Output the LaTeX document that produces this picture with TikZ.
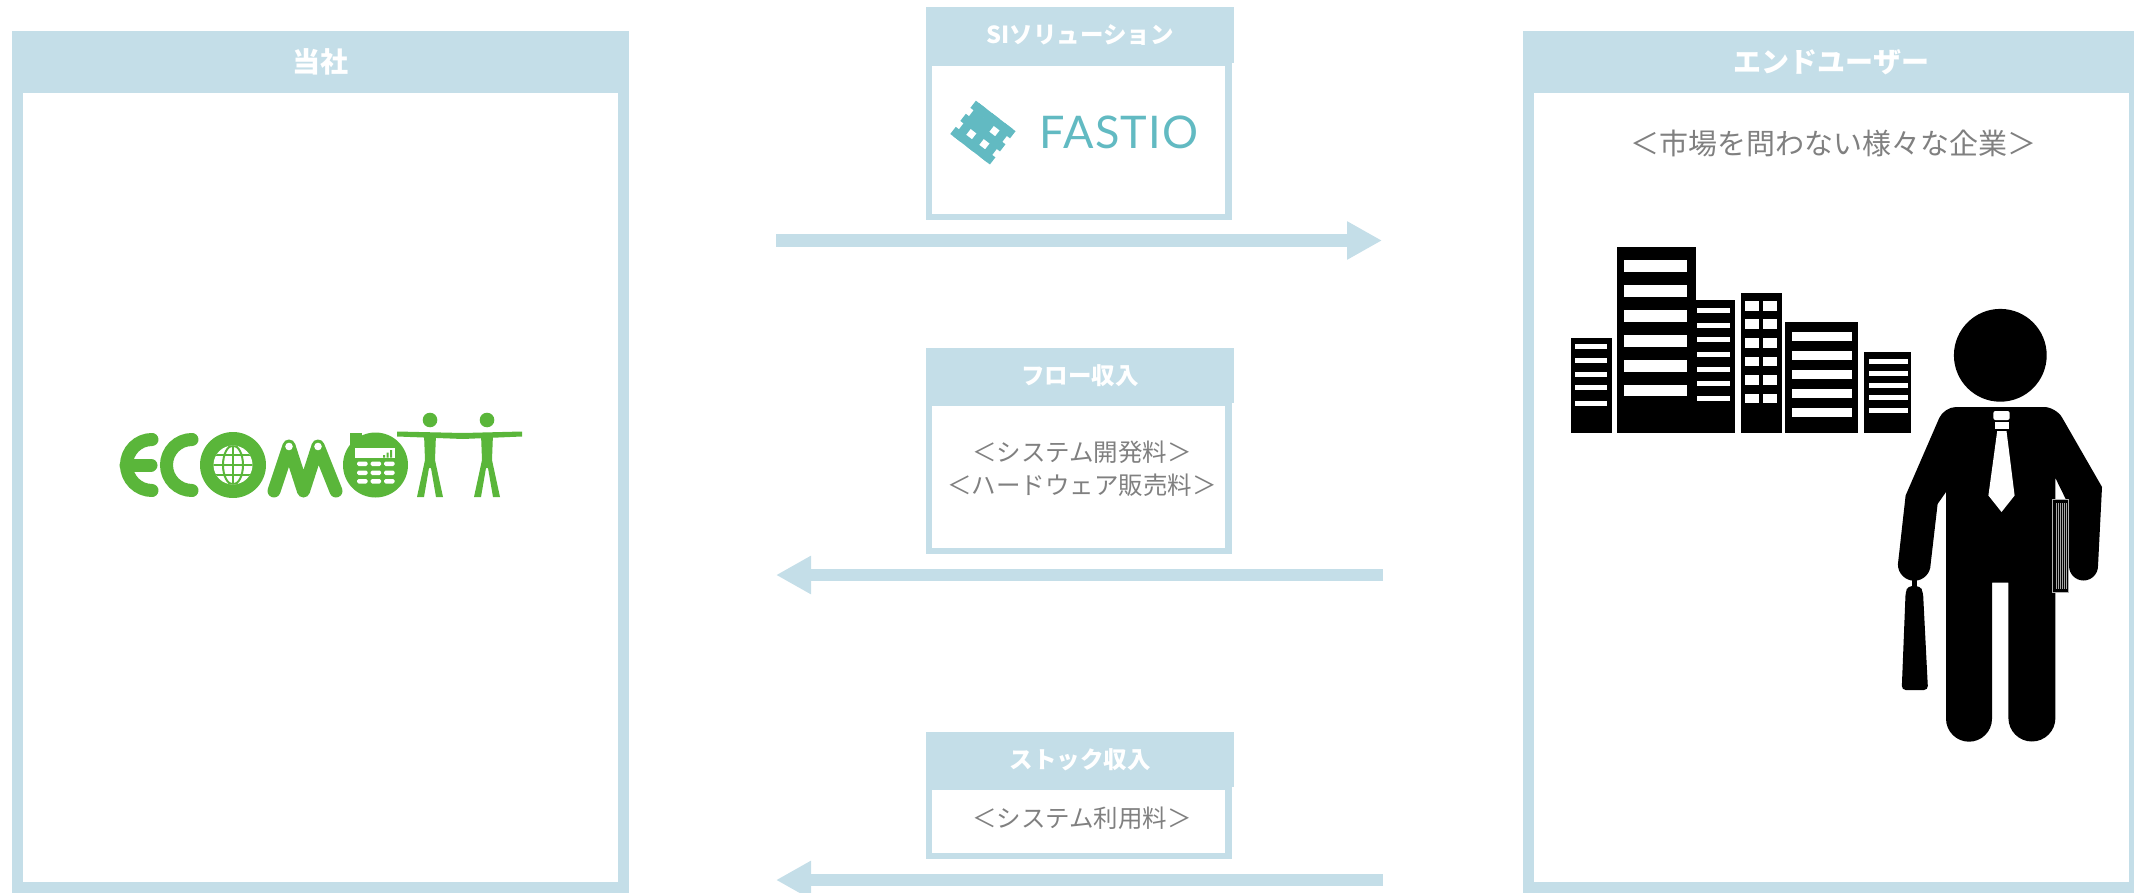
\documentclass[tikz,border=0pt]{standalone}
\usepackage{fontspec}
\usepackage{tikz}
\usetikzlibrary{arrows.meta,positioning}
\newfontfamily\jpfont{Noto Sans CJK JP}
\newfontfamily\fastiofont{Lato}[LetterSpace=3]
\definecolor{frameblue}{RGB}{196,222,232}
\definecolor{textgray}{RGB}{128,128,128}
\definecolor{fastioteal}{RGB}{98,186,194}
\definecolor{ecogreen}{RGB}{90,182,58}

\begin{document}
\begin{tikzpicture}[x=1pt,y=-1pt,
  bigband/.style={fill=frameblue,text=white,inner sep=0pt,minimum width=617pt,minimum height=62pt,font={\jpfont\bfseries\fontsize{28}{32}\selectfont}},
  smallband/.style={fill=frameblue,text=white,inner sep=0pt,minimum width=308pt,minimum height=55pt,font={\jpfont\bfseries\fontsize{23.5}{28}\selectfont}},
  bigframe/.style={draw=frameblue,line width=11pt,inner sep=0pt,minimum width=606pt,minimum height=825.5pt},
  smallframe/.style={draw=frameblue,line width=6.5pt,inner sep=0pt,minimum width=299.5pt},
  graytext/.style={text=textgray,align=center,inner sep=0pt,font={\jpfont\fontsize{24.5}{33}\selectfont}},
  flowarrow/.style={draw=frameblue,line width=12.5pt,-{Triangle[length=35pt,width=36pt]}}]
  \useasboundingbox (0,0) rectangle (2134,893);

  % boxes of the two parties
  \node[bigframe] (toshabody) at (320.5,474.75) {};
  \node[bigframe] (userbody) at (1831.5,474.75) {};
  \node[bigband] (tosha) at (320.5,62) {当社};
  \node[bigband] (user) at (1831.5,62) {エンドユーザー};
  \node[graytext,font={\jpfont\fontsize{29}{33}\selectfont}] (market) at (1833,143) {＜市場を問わない様々な企業＞};

  % middle boxes
  \node[smallframe,minimum height=154pt] (sibody) at (1078.75,140) {};
  \node[smallband,minimum height=56pt] (si) at (1080,35) {SIソリューション};
  \node[smallframe,minimum height=148pt] (flowbody) at (1078.75,477) {};
  \node[smallband] (flow) at (1080,375.5) {フロー収入};
  \node[graytext] (flowtxt) at (1082,468.5) {＜システム開発料＞\\＜ハードウェア販売料＞};
  \node[smallframe,minimum height=69pt] (stockbody) at (1078.75,821.5) {};
  \node[smallband] (stock) at (1080,759.5) {ストック収入};
  \node[graytext] (stocktxt) at (1082,818) {＜システム利用料＞};

  % arrows
  \coordinate (sol0) at (776,240.5);
  \coordinate (sol1) at (1382,240.5);
  \coordinate (fl0) at (1383,575);
  \coordinate (fl1) at (776,575);
  \coordinate (st0) at (1383,880);
  \coordinate (st1) at (776,880);
  \draw[flowarrow] (sol0) -- (sol1);
  \draw[flowarrow] (fl0) -- (fl1);
  \draw[flowarrow] (st0) -- (st1);

  % FASTIO logo
  \begin{scope}[shift={(982.9,132.6)},rotate=-37.6,fastioteal]
    \foreach \k in {-16.5,0,16.5} {
      \fill (-25,\k-4.5) rectangle (25,\k+4.5);
      \fill (\k-4.5,-21) rectangle (\k+4.5,21);
    }
    \fill (-12.5,-12.5) rectangle (-3.5,-3.5);
  \end{scope}
  \node[text=fastioteal,inner sep=0pt,font={\fastiofont\fontsize{45}{50}\selectfont}] (fastio) at (1119,132.5) {FASTIO};

  % ECOMOTT logo
  \draw[ecogreen,line width=13pt,line cap=round] (152,439.5) arc[start angle=270,end angle=90,radius=25.5];
  \draw[ecogreen,line width=13pt,line cap=round] (126,465) -- (151,465);
  \draw[ecogreen,line width=13pt,line cap=round] (192,439.5) arc[start angle=270,end angle=90,radius=25.5];
  \fill[ecogreen] (233,465) circle (33);
  \fill[white] (233,465) circle (19.5);
  \begin{scope}
    \clip (233,465) circle (19.5);
    \draw[ecogreen,line width=2pt] (212,455) -- (254,455) (212,465) -- (254,465) (212,475) -- (254,475) (233,444) -- (233,486);
    \draw[ecogreen,line width=2pt] (233,465) ellipse [x radius=10,y radius=19.5];
  \end{scope}
  \draw[ecogreen,line width=13pt,line cap=round,line join=round] (274,491) -- (289,446) -- (303.5,491) -- (318,446) -- (336,491);
  \fill[white] (289,446.5) circle (3.8) (318,446.5) circle (3.8);
  \fill[ecogreen] (375.5,465) circle (32.5);
  \fill[ecogreen] (350,433) rectangle (362,446);
  \fill[white] (355,448.3) rectangle (395,458.3);
  \fill[ecogreen] (383,455) rectangle (385,457.5) (386.5,452.5) rectangle (388.5,457.5) (390,450) rectangle (392,457.5);
  \foreach \kx in {357,370.5,384}
    \foreach \ky in {461.5,470.5,479}
      \fill[white,rounded corners=1.5pt] (\kx,\ky) rectangle ++(10.5,4.5);
  \fill[ecogreen] (397,431.5) -- (463,433) -- (522,431.5) -- (522,436.5) -- (463,439) -- (397,436.5) -- cycle;
  \foreach \cx in {430,487} {
    \fill[ecogreen] (\cx,420) circle (7.3);
    \fill[ecogreen] (\cx-6,434) -- (\cx+6,434) -- (\cx+5,460) -- (\cx+13,497) -- (\cx+6,497) -- (\cx+1,468) -- (\cx-1,468) -- (\cx-6,497) -- (\cx-13,497) -- (\cx-5,460) -- cycle;
  }

  % buildings
  \fill (1571,338) rectangle (1612,432.5);
  \foreach \w in {344,358,371.5,385,401} \fill[white] (1575,\w) rectangle (1607.4,\w+5);
  \fill (1617.4,247.5) rectangle (1695.6,432.5);
  \foreach \w in {260,285,310,335,360,384.6} \fill[white] (1624.4,\w) rectangle (1687,\w+11.7);
  \fill (1695.6,300) rectangle (1734.5,432.5);
  \foreach \w in {308.5,323,337.4,352,366.7,381,395.6} \fill[white] (1697,\w) rectangle (1730,\w+5);
  \fill (1740.7,293) rectangle (1781.5,432.5);
  \foreach \w in {301,319.5,338,356.7,375,393.6} {
    \fill[white] (1744.6,\w) rectangle (1759.2,\w+9.6);
    \fill[white] (1762.7,\w) rectangle (1777,\w+9.6);
  }
  \fill (1785,322) rectangle (1858,432.5);
  \foreach \w in {332,351,370,388.7,407.7} \fill[white] (1792,\w) rectangle (1852,\w+8.8);
  \fill (1864,352) rectangle (1910.6,432.5);
  \foreach \w in {359,371,383,395,407.7} \fill[white] (1868.6,\w) rectangle (1907.5,\w+5.3);

  % business man
  \fill (2000.3,355.3) circle (46.4);
  \fill (1946,718.7) -- (1946,492) -- (1937.6,504) -- (1930.6,564.4)
    arc[start angle=0,end angle=180,radius=16.35] -- (1905.6,495.5)
    [rounded corners=12pt] -- (1944,407) -- (2056,407) [sharp corners] -- (2102,487)
    -- (2098,566) arc[start angle=0,end angle=180,radius=14.5] -- (2069,505.8) -- (2055.4,478)
    -- (2055.4,718) arc[start angle=0,end angle=180,radius=23.5] -- (2008.4,582.5) -- (1992,582.5)
    -- (1992,718.7) arc[start angle=0,end angle=180,radius=23] -- cycle;
  \fill[white,rounded corners=2pt] (1993.4,411) rectangle (2009.6,420);
  \fill[white] (1994.5,422) rectangle (2008.5,429.4);
  \fill[white] (1997.2,431) -- (2006.5,431) -- (2014.6,495.5) -- (2001.5,512) -- (1988.4,495.5) -- cycle;
  \filldraw[fill=black,draw=gray!60,line width=0.8pt] (2052.7,499.6) rectangle (2068.5,592);
  \foreach \x in {2056,2058,...,2066} \draw[gray!70,line width=0.5pt] (\x,503) -- (\x,589);
  \fill (1911.5,578) rectangle (1916.5,588);
  \fill[rounded corners=4pt] (1908,586) -- (1920,586) -- (1923,592) -- (1928,690) -- (1901.7,690) -- (1905.6,592) -- cycle;
\end{tikzpicture}
\end{document}
